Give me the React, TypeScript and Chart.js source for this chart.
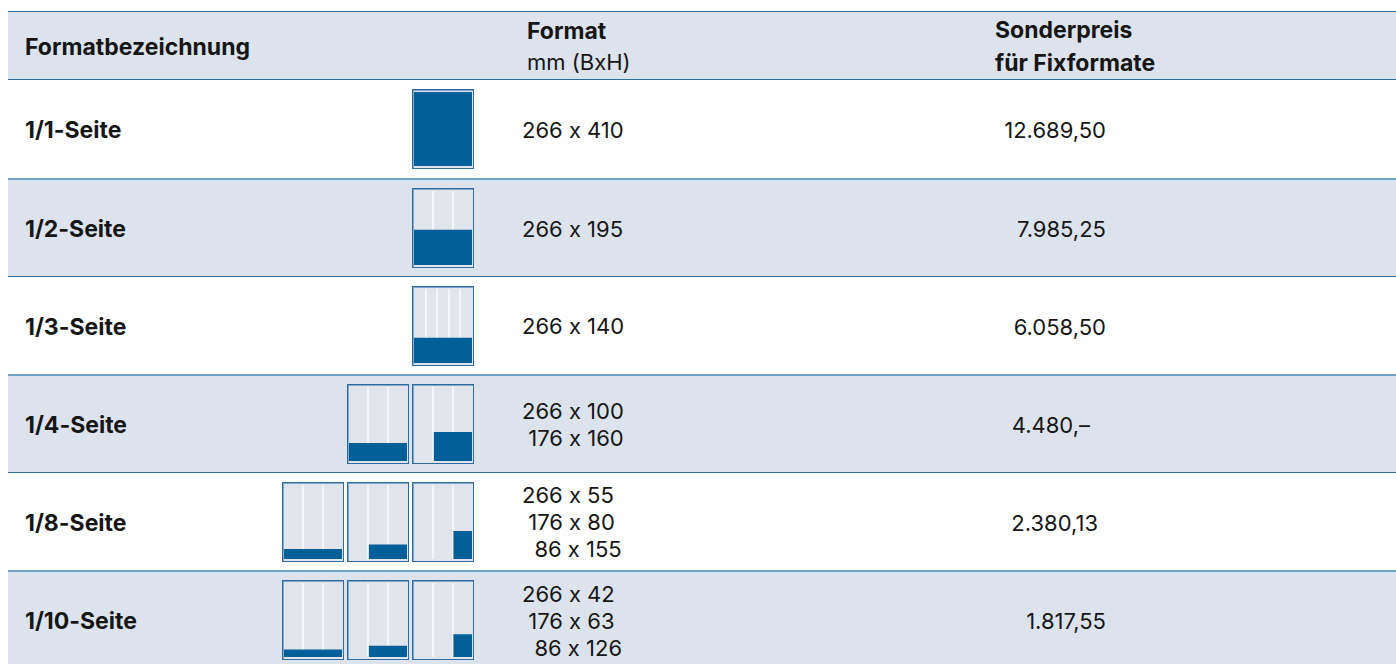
import React, { useEffect, useRef } from "react";
import { Chart, registerables } from "chart.js";

Chart.register(...registerables);

// ---- data ----
const PAGE_W = 266; // mm, full page width
const PAGE_H = 410; // mm, full page height

const rowLabels = ["1/1-Seite", "1/2-Seite", "1/3-Seite", "1/4-Seite", "1/8-Seite", "1/10-Seite"];

// each row: list of formats [width mm, height mm]
const formatWidths = [[266], [266], [266], [266, 176], [266, 176, 86], [266, 176, 86]];
const formatHeights = [[410], [195], [140], [100, 160], [55, 80, 155], [42, 63, 126]];

// text shown in the format column (leading spaces as in the source)
const formatTexts = [
  ["266 x 410"],
  ["266 x 195"],
  ["266 x 140"],
  ["266 x 100", " 176 x 160"],
  ["266 x 55", " 176 x 80", "  86 x 155"],
  ["266 x 42", " 176 x 63", "  86 x 126"],
];

// column grid of each thumbnail (number of page columns drawn)
const thumbColumns = [[4], [3], [5], [3, 3], [3, 3, 3], [3, 3, 3]];

const prices = ["12.689,50", "7.985,25", "6.058,50", "4.480,–", "2.380,13", "1.817,55"];

const headerName = "Formatbezeichnung";
const headerFormat = ["Format", "mm (BxH)"];
const headerPrice = ["Sonderpreis", "für Fixformate"];

// ---- styles ----
const BLUE = "#035f98";
const ROW_GRAY = "#dce3ec";
const THUMB_GRAY = "#e1e4eb";
const LINE_DARK = "#2c6ca3";
const LINE_LIGHT = "#72a1c6";
const FONT = "Inter, 'DejaVu Sans', sans-serif";
const TEXT = "#161616";
const BOLD_SIZE = 23;
const REG_SIZE = 22;
// extra right padding of the price text per row (tab alignment in the source)
const PRICE_PAD = [0, 0, 0, 16, 8, 0];

function Thumb({ w, h, cols }: { w: number; h: number; cols: number }) {
  const ref = useRef<HTMLCanvasElement>(null);
  useEffect(() => {
    if (!ref.current) return;
    const colTicks: number[] = [];
    for (let i = 0; i <= cols; i++) colTicks.push((PAGE_W / cols) * i);
    const chart = new Chart(ref.current, {
      type: "line",
      data: {
        datasets: [
          {
            data: [
              { x: PAGE_W - w, y: h },
              { x: PAGE_W, y: h },
            ],
            fill: "origin",
            backgroundColor: BLUE,
            borderWidth: 0,
            pointRadius: 0,
            tension: 0,
          },
        ],
      },
      options: {
        animation: false,
        responsive: false,
        maintainAspectRatio: false,
        events: [],
        layout: { padding: 0, autoPadding: false },
        plugins: { legend: { display: false }, tooltip: { enabled: false } },
        scales: {
          x: {
            type: "linear",
            min: 0,
            max: PAGE_W,
            afterBuildTicks: (scale: any) => {
              scale.ticks = colTicks.map((v) => ({ value: v }));
            },
            ticks: { display: false, padding: 0 },
            grid: {
              drawTicks: false,
              lineWidth: 2,
              color: (ctx: any) =>
                ctx.tick && (ctx.tick.value <= 0.01 || ctx.tick.value >= PAGE_W - 0.01)
                  ? "rgba(0,0,0,0)"
                  : "#f4f5f8",
            },
            border: { display: false },
          },
          y: {
            type: "linear",
            min: 0,
            max: PAGE_H,
            display: false,
          },
        },
      },
    } as any);
    return () => chart.destroy();
  }, [w, h, cols]);
  return (
    <div
      style={{
        width: 60,
        height: 78,
        border: `1px solid ${LINE_DARK}`,
        boxShadow: "inset 1px 1px 0 #7fa8cb",
        background: THUMB_GRAY,
        position: "relative",
        boxSizing: "content-box",
        flex: "0 0 auto",
      }}
    >
      <canvas
        ref={ref}
        width={58}
        height={74}
        style={{ position: "absolute", left: 1, top: 2, width: 58, height: 74 }}
      />
    </div>
  );
}

export default function App() {
  useEffect(() => {
    document.body.style.margin = "0";
    document.body.style.overflow = "hidden";
  }, []);

  const TOP = 11;
  const HEADER_H = 69;
  const ROW_H = 98;

  return (
    <div
      style={{
        position: "relative",
        width: 1396,
        height: 664,
        overflow: "hidden",
        fontFamily: FONT,
        fontFeatureSettings: '"calt" 0',
        color: TEXT,
        background: "#fff",
      }}
    >
      {/* header */}
      <div
        style={{
          position: "absolute",
          left: 8,
          top: TOP,
          width: 1388,
          height: HEADER_H,
          background: ROW_GRAY,
          borderTop: `1px solid ${LINE_DARK}`,
          borderBottom: `1px solid ${LINE_DARK}`,
          boxSizing: "border-box",
        }}
      >
        <div
          style={{
            position: "absolute",
            left: 17,
            top: 1,
            height: "100%",
            display: "flex",
            alignItems: "center",
            fontWeight: 700,
            fontSize: BOLD_SIZE,
          }}
        >
          {headerName}
        </div>
        <div
          style={{
            position: "absolute",
            left: 519,
            top: 1,
            height: "100%",
            display: "flex",
            flexDirection: "column",
            justifyContent: "center",
            lineHeight: "31px",
          }}
        >
          <div style={{ fontWeight: 700, fontSize: BOLD_SIZE }}>{headerFormat[0]}</div>
          <div style={{ fontSize: REG_SIZE }}>{headerFormat[1]}</div>
        </div>
        <div
          style={{
            position: "absolute",
            left: 987,
            top: 1,
            height: "100%",
            display: "flex",
            flexDirection: "column",
            justifyContent: "center",
            fontSize: BOLD_SIZE,
            fontWeight: 700,
            lineHeight: "33px",
          }}
        >
          <div>{headerPrice[0]}</div>
          <div>{headerPrice[1]}</div>
        </div>
      </div>

      {rowLabels.map((label, i) => {
        const top = TOP + HEADER_H + i * ROW_H;
        const gray = i % 2 === 1;
        return (
          <div
            key={label}
            style={{
              position: "absolute",
              left: 8,
              top,
              width: 1388,
              height: ROW_H,
              background: gray ? ROW_GRAY : "#fff",
              borderTop: i === 0 ? "none" : `${gray ? 2 : 1}px solid ${gray ? LINE_LIGHT : LINE_DARK}`,
              boxSizing: "border-box",
            }}
          >
            <div
              style={{
                position: "absolute",
                left: 17,
                top: 1,
                height: "100%",
                display: "flex",
                alignItems: "center",
                fontWeight: 700,
                fontSize: BOLD_SIZE,
              }}
            >
              {label}
            </div>
            <div
              style={{
                position: "absolute",
                right: 1388 - 466,
                top: 0,
                height: "100%",
                display: "flex",
                alignItems: "center",
                gap: 3,
              }}
            >
              {formatWidths[i].map((w, j) => (
                <Thumb key={j} w={w} h={formatHeights[i][j]} cols={thumbColumns[i][j]} />
              ))}
            </div>
            <div
              style={{
                position: "absolute",
                left: 514,
                top: 1,
                height: "100%",
                display: "flex",
                flexDirection: "column",
                justifyContent: "center",
                fontSize: REG_SIZE,
                lineHeight: "27px",
                whiteSpace: "pre",
              }}
            >
              {formatTexts[i].map((t, j) => (
                <div key={j}>{t}</div>
              ))}
            </div>
            <div
              style={{
                position: "absolute",
                right: 1388 - 1098 + PRICE_PAD[i],
                top: 1,
                height: "100%",
                display: "flex",
                alignItems: "center",
                fontSize: REG_SIZE,
              }}
            >
              {prices[i]}
            </div>
          </div>
        );
      })}
    </div>
  );
}
